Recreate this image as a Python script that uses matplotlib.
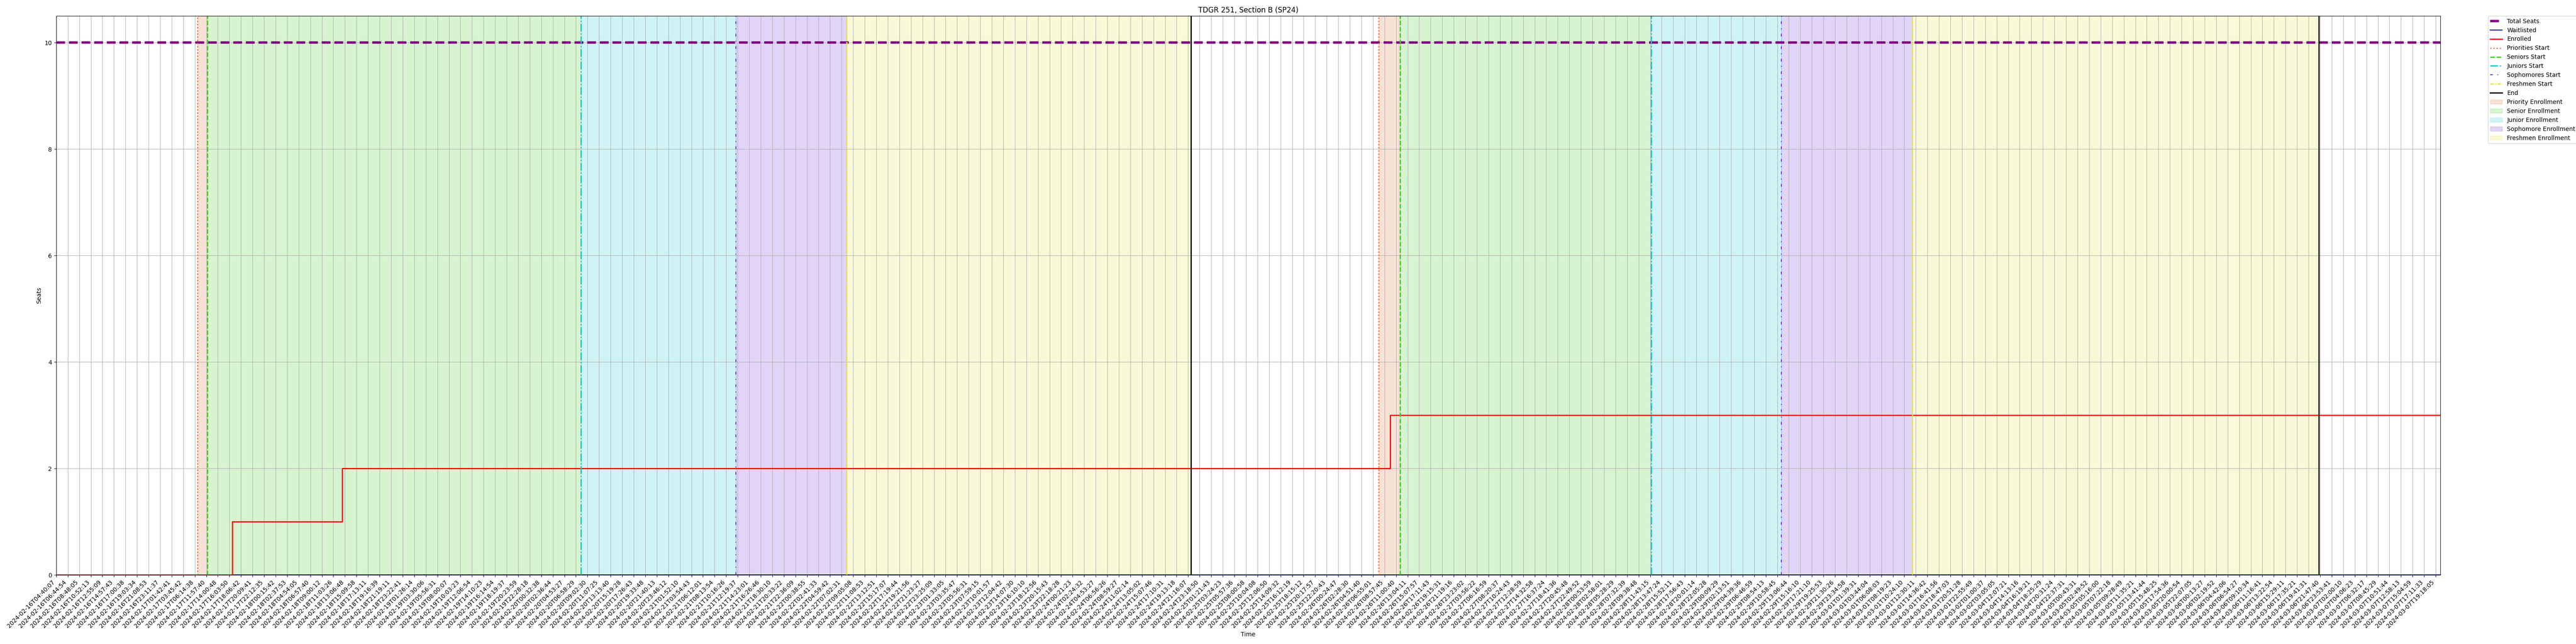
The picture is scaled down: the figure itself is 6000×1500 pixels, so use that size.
import matplotlib
matplotlib.use('Agg')
import matplotlib.pyplot as plt
import numpy as np

# tick labels (one every ~2 h of scraped data)
time_labels = [
    '2024-02-16T04:40:07', '2024-02-16T06:44:54', '2024-02-16T08:48:05', '2024-02-16T10:52:13',
    '2024-02-16T12:55:09', '2024-02-16T14:57:43', '2024-02-16T17:00:38', '2024-02-16T19:03:34',
    '2024-02-16T21:08:53', '2024-02-16T23:11:37', '2024-02-17T01:42:41', '2024-02-17T03:45:42',
    '2024-02-17T06:14:38', '2024-02-17T11:57:40', '2024-02-17T14:00:48', '2024-02-17T16:03:50',
    '2024-02-17T18:06:42', '2024-02-17T20:09:41', '2024-02-17T22:12:35', '2024-02-18T00:15:42',
    '2024-02-18T02:37:53', '2024-02-18T04:54:05', '2024-02-18T06:57:40', '2024-02-18T09:00:12',
    '2024-02-18T11:03:26', '2024-02-18T13:06:48', '2024-02-18T15:09:58', '2024-02-18T17:13:11',
    '2024-02-18T19:16:39', '2024-02-18T21:19:11', '2024-02-18T23:22:41', '2024-02-19T01:26:14',
    '2024-02-19T03:30:06', '2024-02-19T05:56:31', '2024-02-19T08:00:07', '2024-02-19T10:03:23',
    '2024-02-19T12:06:54', '2024-02-19T14:10:23', '2024-02-19T16:14:54', '2024-02-19T18:19:37',
    '2024-02-19T20:23:59', '2024-02-19T22:28:18', '2024-02-20T00:32:38', '2024-02-20T02:36:44',
    '2024-02-20T04:53:27', '2024-02-20T06:58:29', '2024-02-20T09:02:30', '2024-02-20T11:07:25',
    '2024-02-20T13:13:40', '2024-02-20T15:19:28', '2024-02-20T17:26:43', '2024-02-20T19:33:48',
    '2024-02-20T21:40:13', '2024-02-20T23:46:12', '2024-02-21T01:52:10', '2024-02-21T03:54:43',
    '2024-02-21T06:12:01', '2024-02-21T08:13:54', '2024-02-21T10:16:26', '2024-02-21T12:19:37',
    '2024-02-21T14:23:01', '2024-02-21T16:26:46', '2024-02-21T18:30:10', '2024-02-21T20:33:22',
    '2024-02-21T22:36:09', '2024-02-22T00:38:55', '2024-02-22T02:41:33', '2024-02-22T04:59:42',
    '2024-02-22T07:02:31', '2024-02-22T09:05:08', '2024-02-22T11:08:53', '2024-02-22T13:12:51',
    '2024-02-22T15:17:07', '2024-02-22T17:19:44', '2024-02-22T19:21:56', '2024-02-22T21:23:27',
    '2024-02-22T23:25:09', '2024-02-23T01:33:05', '2024-02-23T03:35:47', '2024-02-23T05:56:31',
    '2024-02-23T07:59:15', '2024-02-23T10:01:57', '2024-02-23T12:04:42', '2024-02-23T14:07:30',
    '2024-02-23T16:10:10', '2024-02-23T18:12:56', '2024-02-23T20:15:43', '2024-02-23T22:18:28',
    '2024-02-24T00:21:23', '2024-02-24T02:24:32', '2024-02-24T04:53:27', '2024-02-24T06:56:26',
    '2024-02-24T08:59:27', '2024-02-24T11:02:14', '2024-02-24T13:05:02', '2024-02-24T15:07:46',
    '2024-02-24T17:10:31', '2024-02-24T19:13:18', '2024-02-24T21:16:07', '2024-02-24T23:18:50',
    '2024-02-25T01:21:43', '2024-02-25T03:24:23', '2024-02-25T05:57:36', '2024-02-25T08:00:58',
    '2024-02-25T10:04:08', '2024-02-25T12:06:50', '2024-02-25T14:09:32', '2024-02-25T16:12:19',
    '2024-02-25T18:15:12', '2024-02-25T20:17:57', '2024-02-25T22:20:43', '2024-02-26T00:24:47',
    '2024-02-26T02:28:30', '2024-02-26T04:51:40', '2024-02-26T06:55:01', '2024-02-26T08:57:45',
    '2024-02-26T11:00:40', '2024-02-26T13:04:11', '2024-02-26T15:07:57', '2024-02-26T17:11:43',
    '2024-02-26T19:15:31', '2024-02-26T21:19:16', '2024-02-26T23:23:02', '2024-02-27T03:56:22',
    '2024-02-27T06:16:59', '2024-02-27T08:20:37', '2024-02-27T10:24:43', '2024-02-27T12:28:59',
    '2024-02-27T14:32:58', '2024-02-27T16:37:24', '2024-02-27T18:41:36', '2024-02-27T20:45:48',
    '2024-02-27T22:49:52', '2024-02-28T00:53:59', '2024-02-28T02:58:01', '2024-02-28T05:28:29',
    '2024-02-28T07:32:39', '2024-02-28T09:38:48', '2024-02-28T11:43:15', '2024-02-28T13:47:24',
    '2024-02-28T15:52:11', '2024-02-28T17:56:43', '2024-02-28T20:01:14', '2024-02-28T22:05:28',
    '2024-02-29T00:09:29', '2024-02-29T02:13:51', '2024-02-29T04:39:36', '2024-02-29T06:46:59',
    '2024-02-29T08:54:13', '2024-02-29T10:58:45', '2024-02-29T13:06:44', '2024-02-29T15:16:10',
    '2024-02-29T17:21:10', '2024-02-29T19:25:53', '2024-02-29T21:30:26', '2024-02-29T23:34:58',
    '2024-03-01T01:39:31', '2024-03-01T03:44:04', '2024-03-01T06:08:03', '2024-03-01T08:19:23',
    '2024-03-01T10:24:10', '2024-03-01T12:30:11', '2024-03-01T14:36:42', '2024-03-01T16:41:56',
    '2024-03-01T18:47:03', '2024-03-01T20:51:28', '2024-03-01T22:55:49', '2024-03-02T01:00:37',
    '2024-03-02T03:05:05', '2024-03-04T12:07:21', '2024-03-04T14:13:16', '2024-03-04T16:19:21',
    '2024-03-04T18:25:29', '2024-03-04T20:31:24', '2024-03-04T22:37:31', '2024-03-05T00:43:31',
    '2024-03-05T02:49:52', '2024-03-05T05:16:00', '2024-03-05T07:22:18', '2024-03-05T09:28:49',
    '2024-03-05T11:35:21', '2024-03-05T13:41:44', '2024-03-05T15:48:25', '2024-03-05T17:54:36',
    '2024-03-05T20:00:54', '2024-03-05T22:07:05', '2024-03-06T00:13:27', '2024-03-06T02:19:52',
    '2024-03-06T04:42:06', '2024-03-06T06:54:27', '2024-03-06T09:10:34', '2024-03-06T11:16:41',
    '2024-03-06T13:22:54', '2024-03-06T15:29:11', '2024-03-06T17:35:21', '2024-03-06T19:41:31',
    '2024-03-06T21:47:40', '2024-03-06T23:53:41', '2024-03-07T02:00:10', '2024-03-07T04:06:23',
    '2024-03-07T06:32:17', '2024-03-07T08:45:29', '2024-03-07T10:51:44', '2024-03-07T12:58:13',
    '2024-03-07T15:04:59', '2024-03-07T17:11:33', '2024-03-07T19:18:05',
]

# series, x in units of tick index
total_seats = 10
last_x = 206.4
enrolled_x = [0, 15.25, 24.75, 115.5, last_x]
enrolled_y = [0, 1, 2, 3, 3]
waitlisted_x = [0, last_x]
waitlisted_y = [0, 0]

# registration phases (two rounds)
priorities_start = [12.24, 114.5]
seniors_start = [13.09, 116.36]
juniors_start = [45.44, 138.08]
sophomores_start = [58.84, 149.34]
freshmen_start = [68.43, 160.7]
end_time = [98.26, 195.9]

fig, ax = plt.subplots(figsize=(60, 15), dpi=100)

ax.plot([0, last_x], [total_seats, total_seats], '--', color='purple', lw=4, label='Total Seats')
ax.plot(waitlisted_x, waitlisted_y, color='blue', lw=1.5, drawstyle='steps-post', label='Waitlisted')
ax.plot(enrolled_x, enrolled_y, color='red', lw=2, drawstyle='steps-post', label='Enrolled')

starts = [
    (priorities_start, 'Priorities Start', '#f26a3a', ':', 2),
    (seniors_start, 'Seniors Start', '#3acc14', '--', 2),
    (juniors_start, 'Juniors Start', '#10c4d0', '-.', 2),
    (sophomores_start, 'Sophomores Start', '#6a2ad8', (0, (3, 5, 1, 5)), 1.5),
    (freshmen_start, 'Freshmen Start', '#e4e43a', (0, (3, 1, 1, 1)), 2),
    (end_time, 'End', 'black', '-', 2),
]
for xs, name, c, ls, lw in starts:
    for i, xv in enumerate(xs):
        ax.axvline(xv, color=c, ls=ls, lw=lw, label=name if i == 0 else None)

spans = [
    (priorities_start, seniors_start, 'Priority Enrollment', '#d86a2a'),
    (seniors_start, juniors_start, 'Senior Enrollment', '#3acc14'),
    (juniors_start, sophomores_start, 'Junior Enrollment', '#10c4d0'),
    (sophomores_start, freshmen_start, 'Sophomore Enrollment', '#6a2ad8'),
    (freshmen_start, end_time, 'Freshmen Enrollment', '#e4e43a'),
]
for a, b, name, c in spans:
    for i in range(len(a)):
        ax.axvspan(a[i], b[i], color=c, alpha=0.2, label=name if i == 0 else None)

ax.set_xticks(np.arange(len(time_labels)))
ax.set_xticklabels(time_labels, rotation=45, ha='right')
ax.set_xlim(0, last_x)
ax.set_ylim(0, 10.5)
ax.set_yticks([0, 2, 4, 6, 8, 10])
ax.grid(True)
ax.set_xlabel('Time')
ax.set_ylabel('Seats')
ax.set_title('TDGR 251, Section B (SP24)')
ax.legend(loc='upper left', bbox_to_anchor=(1.02, 1), borderaxespad=0)

plt.subplots_adjust(left=0.0218, right=0.9473, top=0.9753, bottom=0.1073)
plt.savefig('out.png', dpi=100)
